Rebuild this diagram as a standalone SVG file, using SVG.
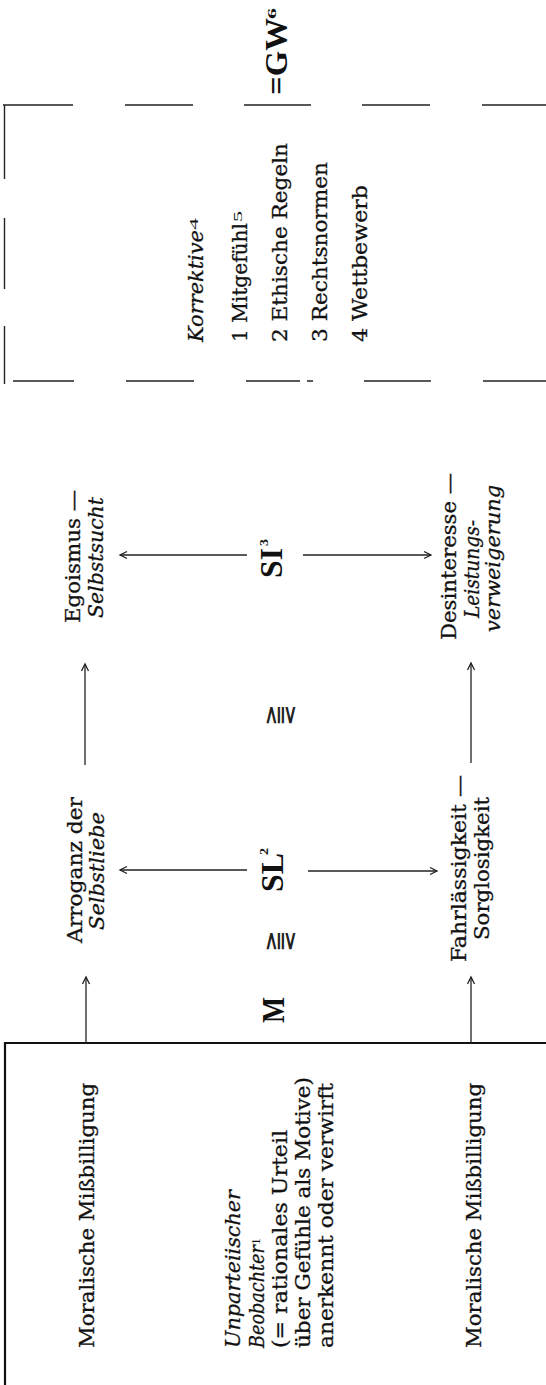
<svg xmlns="http://www.w3.org/2000/svg" width="546" height="1385" viewBox="0 0 546 1385">
<style>
.t{font-family:"DejaVu Serif","Liberation Serif",serif;font-size:21px;fill:#111;stroke:#111;stroke-width:0.3}
.i{font-style:italic}
.b{font-family:"Liberation Serif",serif;font-weight:bold;font-size:31px;fill:#111}
.sup{font-family:"Liberation Serif",serif;font-size:13px;fill:#111}
.sym{font-family:"DejaVu Sans",sans-serif;font-size:26px;fill:#222}
.ln{stroke:#222;stroke-width:1.4;fill:none}
.arr{stroke:#222;stroke-width:1.3;fill:none;marker-end:url(#ah)}
.box{stroke:#111;stroke-width:2.2;fill:none}
</style>
<defs>
<marker id="ah" viewBox="-8 -5 10 10" refX="0" refY="0" markerWidth="10" markerHeight="10" markerUnits="userSpaceOnUse" orient="auto">
<path d="M-7,-3.5 L0,0 L-7,3.5" fill="none" stroke="#222" stroke-width="1.3"/>
</marker>
</defs>
<rect width="546" height="1385" fill="#fff"/>

<g id="gw">
<text class="b" transform="translate(287,95) rotate(-90)" textLength="77" lengthAdjust="spacingAndGlyphs">=GW</text>
<text class="sup" font-weight="bold" transform="translate(276,19) rotate(-90)" textLength="11" lengthAdjust="spacingAndGlyphs">6</text>
</g>

<g id="bracket">
<path class="ln" d="M3,105H73M125,105H193M244,105H311M362,105H430M482,105H546"/>
<path class="ln" d="M13,381H74M126,381H194M246,381H300M307,381H313M364,381H431M483,381H546"/>
<path class="ln" d="M4.5,105V179M4.5,218V289M4.5,326V384"/>
</g>

<g id="korrektive">
<text class="t i" transform="translate(203,342) rotate(-90)" textLength="112" lengthAdjust="spacingAndGlyphs">Korrektive</text>
<text class="sup" transform="translate(198,230) rotate(-90)" textLength="12" lengthAdjust="spacingAndGlyphs">4</text>
<text class="t" transform="translate(247,342) rotate(-90)" textLength="119" lengthAdjust="spacingAndGlyphs">1 Mitgefühl</text>
<text class="sup" transform="translate(242,222) rotate(-90)" textLength="11" lengthAdjust="spacingAndGlyphs">5</text>
<text class="t" transform="translate(287,342) rotate(-90)" textLength="199" lengthAdjust="spacingAndGlyphs">2 Ethische Regeln</text>
<text class="t" transform="translate(327,342) rotate(-90)" textLength="180" lengthAdjust="spacingAndGlyphs">3 Rechtsnormen</text>
<text class="t" transform="translate(367,342) rotate(-90)" textLength="157" lengthAdjust="spacingAndGlyphs">4 Wettbewerb</text>
</g>

<g id="egoismus">
<text class="t" transform="translate(80,623) rotate(-90)" textLength="133" lengthAdjust="spacingAndGlyphs">Egoismus —</text>
<text class="t i" transform="translate(103,618) rotate(-90)" textLength="121" lengthAdjust="spacingAndGlyphs">Selbstsucht</text>
</g>

<g id="desinteresse">
<text class="t" transform="translate(456,640) rotate(-90)" textLength="167" lengthAdjust="spacingAndGlyphs">Desinteresse —</text>
<text class="t i" transform="translate(479,618) rotate(-90)" textLength="98" lengthAdjust="spacingAndGlyphs">Leistungs-</text>
<text class="t i" transform="translate(500,632) rotate(-90)" textLength="147" lengthAdjust="spacingAndGlyphs">verweigerung</text>
</g>

<g id="si">
<text class="b" transform="translate(282,578) rotate(-90)" textLength="30" lengthAdjust="spacingAndGlyphs">SI</text>
<text class="sup" font-weight="bold" transform="translate(268,546) rotate(-90)" textLength="7" lengthAdjust="spacingAndGlyphs">3</text>
</g>

<g id="rel1">
<text class="sym" text-anchor="middle" dominant-baseline="central" transform="translate(278,715) rotate(-90)">⪌</text>
</g>

<g id="sl">
<text class="b" transform="translate(283,892) rotate(-90)" textLength="39" lengthAdjust="spacingAndGlyphs">SL</text>
<text class="sup" font-weight="bold" transform="translate(268,855) rotate(-90)" textLength="7" lengthAdjust="spacingAndGlyphs">2</text>
</g>

<g id="rel2">
<text class="sym" text-anchor="middle" dominant-baseline="central" transform="translate(278,941) rotate(-90)">⪌</text>
</g>

<g id="m">
<text class="b" transform="translate(284,1023) rotate(-90)" textLength="26" lengthAdjust="spacingAndGlyphs">M</text>
</g>

<g id="arroganz">
<text class="t" transform="translate(82,943) rotate(-90)" textLength="146" lengthAdjust="spacingAndGlyphs">Arroganz der</text>
<text class="t i" transform="translate(104,930) rotate(-90)" textLength="118" lengthAdjust="spacingAndGlyphs">Selbstliebe</text>
</g>

<g id="fahrlaessigkeit">
<text class="t" transform="translate(466,962) rotate(-90)" textLength="187" lengthAdjust="spacingAndGlyphs">Fahrlässigkeit —</text>
<text class="t" transform="translate(489,940) rotate(-90)" textLength="143" lengthAdjust="spacingAndGlyphs">Sorglosigkeit</text>
</g>

<g id="beobachter-box">
<path class="box" d="M5,1385V1043H546"/>
<text class="t" transform="translate(94,1348) rotate(-90)" textLength="265" lengthAdjust="spacingAndGlyphs">Moralische Mißbilligung</text>
<text class="t i" transform="translate(240,1348) rotate(-90)" textLength="158" lengthAdjust="spacingAndGlyphs">Unparteiischer</text>
<text class="t i" transform="translate(264,1348) rotate(-90)" textLength="103" lengthAdjust="spacingAndGlyphs">Beobachter</text>
<text class="sup" transform="translate(260,1245) rotate(-90)" textLength="7" lengthAdjust="spacingAndGlyphs">1</text>
<text class="t" transform="translate(287,1348) rotate(-90)" textLength="218" lengthAdjust="spacingAndGlyphs">(= rationales Urteil</text>
<text class="t" transform="translate(310,1348) rotate(-90)" textLength="271" lengthAdjust="spacingAndGlyphs">über Gefühle als Motive)</text>
<text class="t" transform="translate(333,1348) rotate(-90)" textLength="265" lengthAdjust="spacingAndGlyphs">anerkennt oder verwirft</text>
<text class="t" transform="translate(481,1348) rotate(-90)" textLength="265" lengthAdjust="spacingAndGlyphs">Moralische Mißbilligung</text>
</g>

<g id="connectors">
<line class="arr" x1="86" y1="1043" x2="86" y2="977"/>
<line class="arr" x1="471" y1="1043" x2="471" y2="977"/>
<line class="arr" x1="247" y1="870" x2="120" y2="870"/>
<line class="arr" x1="308" y1="871" x2="437" y2="871"/>
<line class="arr" x1="85" y1="765" x2="85" y2="664"/>
<line class="arr" x1="471" y1="763" x2="471" y2="663"/>
<line class="arr" x1="247" y1="555" x2="120" y2="555"/>
<line class="arr" x1="303" y1="555" x2="431" y2="555"/>
</g>
</svg>
